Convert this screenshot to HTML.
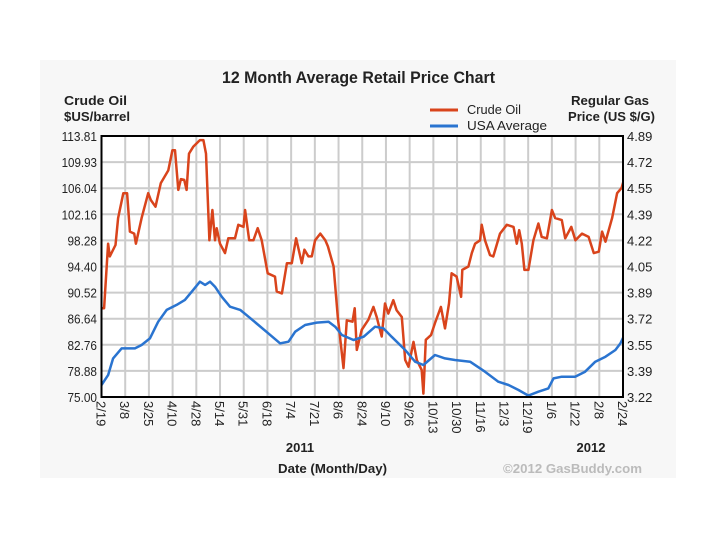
<!DOCTYPE html>
<html><head><meta charset="utf-8"><style>
body{margin:0;background:#fff;}
svg{display:block;font-family:"Liberation Sans",Arial,sans-serif;}
</style></head><body>
<svg id="chart" width="720" height="540" viewBox="0 0 720 540">
<rect x="40" y="60" width="636" height="418" fill="#f7f7f7"/>
<text x="222" y="83" textLength="273" lengthAdjust="spacingAndGlyphs" font-size="17" font-weight="bold" fill="#222">12 Month Average Retail Price Chart</text>
<text x="64" y="105" font-size="13" font-weight="bold" fill="#222" textLength="63" lengthAdjust="spacingAndGlyphs">Crude Oil</text>
<text x="64" y="121" font-size="13" font-weight="bold" fill="#222" textLength="66" lengthAdjust="spacingAndGlyphs">$US/barrel</text>
<text x="571" y="105" font-size="13" font-weight="bold" fill="#222" textLength="78" lengthAdjust="spacingAndGlyphs">Regular Gas</text>
<text x="568" y="121" font-size="13" font-weight="bold" fill="#222" textLength="87" lengthAdjust="spacingAndGlyphs">Price (US $/G)</text>
<g>
<line x1="430" y1="110" x2="458" y2="110" stroke="#d9441c" stroke-width="3"/>
<text x="467" y="114" font-size="13" fill="#222" textLength="54" lengthAdjust="spacingAndGlyphs">Crude Oil</text>
<line x1="430" y1="126" x2="458" y2="126" stroke="#2a74d0" stroke-width="3"/>
<text x="467" y="130" font-size="13" fill="#222" textLength="80" lengthAdjust="spacingAndGlyphs">USA Average</text>
</g>
<rect x="101.5" y="136" width="521.5" height="261" fill="#fff"/>
<g id="grid"></g>
<g id="axes"></g>
<defs><clipPath id="clip"><rect x="101.5" y="136" width="521.5" height="261"/></clipPath></defs>
<g id="series" clip-path="url(#clip)"></g>
<rect x="101.5" y="136" width="521.5" height="261" fill="none" stroke="#000" stroke-width="2"/>
<text x="300" y="452" text-anchor="middle" font-size="13" font-weight="bold" fill="#222">2011</text>
<text x="591" y="452" text-anchor="middle" font-size="13" font-weight="bold" fill="#222">2012</text>
<text x="278" y="473" font-size="13" font-weight="bold" fill="#222" textLength="109" lengthAdjust="spacingAndGlyphs">Date (Month/Day)</text>
<text x="503" y="473" font-size="13" font-weight="bold" fill="#bbb" textLength="139" lengthAdjust="spacingAndGlyphs">©2012 GasBuddy.com</text>
</svg>
<script>
const dateLabels=["2/19","3/8","3/25","4/10","4/28","5/14","5/31","6/18","7/4","7/21","8/6","8/24","9/10","9/26","10/13","10/30","11/16","12/3","12/19","1/6","1/22","2/8","2/24"];
const oilTicks=["113.81","109.93","106.04","102.16","98.28","94.40","90.52","86.64","82.76","78.88","75.00"];
const gasTicks=["4.89","4.72","4.55","4.39","4.22","4.05","3.89","3.72","3.55","3.39","3.22"];
const oilX=[0,0.11,0.28,0.35,0.59,0.7,0.92,1.08,1.2,1.38,1.45,1.69,1.97,2.08,2.28,2.5,2.82,2.99,3.1,3.24,3.35,3.49,3.59,3.69,3.87,4.15,4.3,4.41,4.55,4.68,4.79,4.86,5.0,5.21,5.35,5.63,5.77,5.99,6.06,6.23,6.41,6.59,6.76,7.01,7.32,7.39,7.61,7.82,8.03,8.21,8.45,8.56,8.73,8.87,9.01,9.23,9.44,9.55,9.79,9.97,10.21,10.35,10.59,10.68,10.77,10.98,11.26,11.47,11.61,11.82,11.96,12.1,12.31,12.45,12.67,12.81,12.95,13.16,13.3,13.51,13.58,13.68,13.9,14.07,14.32,14.49,14.66,14.77,14.98,15.17,15.22,15.48,15.62,15.76,15.97,16.04,16.18,16.39,16.53,16.81,17.1,17.38,17.52,17.62,17.73,17.84,18.01,18.22,18.43,18.57,18.79,19.0,19.14,19.42,19.56,19.82,19.99,20.27,20.55,20.77,20.98,21.12,21.26,21.54,21.75,21.94,22.04];
const oilVals=[88.2,88.2,97.8,95.9,97.6,101.6,105.3,105.3,99.6,99.3,97.8,101.6,105.3,104.3,103.3,106.8,108.7,111.7,111.7,105.8,107.4,107.3,105.8,111.2,112.2,113.2,113.2,111.2,98.3,102.8,98.3,100.1,97.8,96.4,98.6,98.6,100.6,100.3,102.8,98.3,98.3,100.1,98.3,93.4,92.9,90.7,90.4,94.9,94.9,98.6,94.9,96.9,95.9,95.9,98.3,99.3,98.3,97.4,94.4,86.9,79.3,86.4,86.2,88.2,82.0,85.0,86.5,88.4,86.9,84.0,88.9,87.4,89.4,87.9,86.9,80.5,79.5,83.2,80.5,79.0,75.5,83.5,84.2,86.0,88.4,85.2,88.9,93.4,92.9,89.9,93.9,94.4,96.4,97.8,98.3,100.6,98.3,96.1,95.9,99.3,100.6,100.3,97.8,99.8,97.8,93.9,93.9,98.3,100.8,98.8,98.6,102.8,101.6,101.3,98.6,100.3,98.3,99.3,98.8,96.4,96.6,99.6,98.1,101.6,105.3,106.1,107.3];
const gasX=[0,0.28,0.49,0.85,1.06,1.41,1.69,2.04,2.39,2.75,3.17,3.52,3.87,4.15,4.37,4.58,4.79,5.07,5.42,5.85,6.2,6.62,7.04,7.54,7.89,8.17,8.59,9.08,9.58,9.86,10.14,10.63,11.06,11.54,11.89,12.24,12.81,13.23,13.58,14.07,14.49,14.91,15.55,16.18,16.74,17.17,17.59,18.01,18.43,18.85,19.07,19.42,19.98,20.4,20.83,21.26,21.68,21.89,22.04];
const gasVals=[3.297,3.36,3.467,3.531,3.531,3.531,3.553,3.595,3.702,3.777,3.809,3.841,3.905,3.958,3.937,3.958,3.926,3.862,3.798,3.777,3.734,3.681,3.627,3.563,3.574,3.638,3.681,3.696,3.702,3.67,3.617,3.585,3.606,3.67,3.66,3.606,3.521,3.446,3.425,3.489,3.467,3.457,3.446,3.382,3.318,3.297,3.265,3.229,3.254,3.275,3.339,3.35,3.35,3.382,3.446,3.478,3.521,3.563,3.61];

const L=101.5,R=623,T=136,B=397,NS="http://www.w3.org/2000/svg";
const xs=u=>L+u/(dateLabels.length-1)*(R-L);
const oilMin=parseFloat(oilTicks[oilTicks.length-1]),oilMax=parseFloat(oilTicks[0]);
const gasMin=parseFloat(gasTicks[gasTicks.length-1]),gasMax=parseFloat(gasTicks[0]);
const yOil=v=>B-(v-oilMin)/(oilMax-oilMin)*(B-T);
const yGas=v=>B-(v-gasMin)/(gasMax-gasMin)*(B-T);
function mk(tag,attrs,parent){const e=document.createElementNS(NS,tag);for(const k in attrs)e.setAttribute(k,attrs[k]);parent.appendChild(e);return e;}
const grid=document.getElementById('grid'),axes=document.getElementById('axes'),series=document.getElementById('series');
dateLabels.forEach((d,i)=>{
  const x=xs(i);
  const gl=mk('line',{x1:x,y1:T,x2:x,y2:B,stroke:'#cccccc','stroke-width':2},grid);
  
  
  const t=mk('text',{transform:`translate(${x-5},401) rotate(90)`,'font-size':13,fill:'#222'},axes);
  t.textContent=d;
  
  
});
oilTicks.forEach((s,i)=>{
  const y=T+i*(B-T)/(oilTicks.length-1);
  const gl=mk('line',{x1:L,y1:y,x2:R,y2:y,stroke:'#cccccc','stroke-width':2},grid);
  
  
  const t=mk('text',{x:97,y:y+5,'text-anchor':'end','font-size':13,fill:'#222',textLength:(s.length*5.9).toFixed(1),lengthAdjust:'spacingAndGlyphs'},axes);
  t.textContent=s;
  
  
});
gasTicks.forEach((s,i)=>{
  const y=T+i*(B-T)/(gasTicks.length-1);
  const t=mk('text',{x:627,y:y+5,'font-size':13,fill:'#222'},axes);
  t.textContent=s;
  
  
});
const oilPts=oilX.map((u,i)=>xs(u).toFixed(1)+','+yOil(oilVals[i]).toFixed(1)).join(' ');
const oilLine=mk('polyline',{points:oilPts,fill:'none',stroke:'#d9441c','stroke-width':2.5,'stroke-linejoin':'round'},series);


const gasPts=gasX.map((u,i)=>xs(u).toFixed(1)+','+yGas(gasVals[i]).toFixed(1)).join(' ');
const gasLine=mk('polyline',{points:gasPts,fill:'none',stroke:'#2a74d0','stroke-width':2.5,'stroke-linejoin':'round'},series);


</script>
</body></html>
